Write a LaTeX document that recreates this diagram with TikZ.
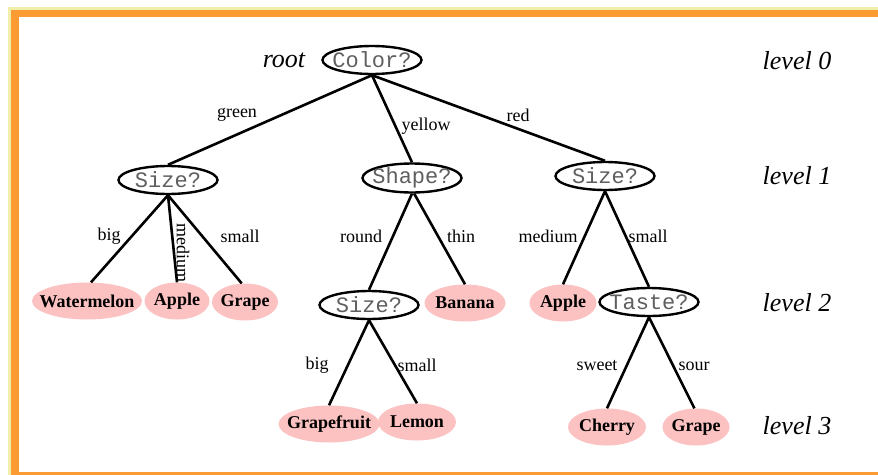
\documentclass[tikz,border=0pt]{standalone}
\usepackage{fontspec}
\setmainfont{Liberation Serif}
\newfontfamily\quizfont{Liberation Mono}
\usepackage{tikz}
\usetikzlibrary{shapes.geometric}

\definecolor{framecream}{RGB}{240,238,168}
\definecolor{frameorange}{RGB}{251,155,52}
\definecolor{fruitpink}{RGB}{252,194,194}
\definecolor{quizgray}{RGB}{95,95,95}

\tikzset{
  question/.style={ellipse, draw=black, line width=2.4pt, fill=white,
    minimum width=99pt, minimum height=28pt, inner xsep=-8pt, inner ysep=0pt,
    text=quizgray, font=\quizfont\fontsize{22}{22}\selectfont},
  fruit/.style={ellipse, fill=fruitpink, minimum height=37pt, inner xsep=-20pt, inner ysep=0pt,
    font=\bfseries\fontsize{18}{18}\selectfont},
  branch/.style={inner sep=0pt, font=\fontsize{18}{18}\selectfont},
  levellabel/.style={inner sep=0pt, font=\itshape\fontsize{26}{26}\selectfont},
  link/.style={line width=2.6pt}
}

\begin{document}
\begin{tikzpicture}[x=1pt, y=-1pt]
    \useasboundingbox (0, 0) rectangle (878, 474);
    \clip (0, 0) rectangle (878, 474);

    % frame
    \fill[framecream] (8, 7) rectangle (900, 500);
    \fill[frameorange] (11, 10) rectangle (900, 500);
    \fill[white] (19, 17) rectangle (900, 472);

    % level labels
    \node[levellabel] (rootlbl) at (284, 60) {root};
    \node[levellabel] (lvl0) at (797, 61) {level 0};
    \node[levellabel] (lvl1) at (797, 176) {level 1};
    \node[levellabel] (lvl2) at (797, 303) {level 2};
    \node[levellabel] (lvl3) at (797, 426) {level 3};

    % questions
    \node[question] (root) at (372, 60) {Color?};
    \node[question] (sizeL) at (168, 180) {Size?};
    \node[question] (shape) at (412, 178) {Shape?};
    \node[question] (sizeR) at (605, 176) {Size?};
    \node[question] (sizeM) at (369, 305) {Size?};
    \node[question] (taste) at (649, 302) {Taste?};

    % fruits
    \node[fruit, minimum width=110pt] (watermelon) at (87, 301) {Watermelon};
    \node[fruit, minimum width=65pt] (appleL) at (177, 301) {Apple};
    \node[fruit, minimum width=66pt] (grapeL) at (245, 302) {Grape};
    \node[fruit, minimum width=81pt] (banana) at (465, 303) {Banana};
    \node[fruit, minimum width=67pt] (appleR) at (563, 303) {Apple};
    \node[fruit, minimum width=101pt] (grapefruit) at (329, 424) {Grapefruit};
    \node[fruit, minimum width=78pt] (lemon) at (417, 422) {Lemon};
    \node[fruit, minimum width=78pt] (cherry) at (607, 427) {Cherry};
    \node[fruit, minimum width=67pt] (grapeR) at (696, 427) {Grape};

    % branches
    \draw[link] (root.south) -- (sizeL.north);
    \draw[link] (root.south) -- (shape.north);
    \draw[link] (root.south) -- (sizeR.north);
    \draw[link] (sizeL.south) -- (watermelon.78);
    \draw[link] (sizeL.south) -- (appleL.north);
    \draw[link] (sizeL.south) -- (grapeL.100);
    \draw[link] (shape.south) -- (sizeM.north);
    \draw[link] (shape.-82) -- (banana.north);
    \draw[link] (sizeR.south) -- (appleR.north);
    \draw[link] (sizeR.south) -- (taste.north);
    \draw[link] (sizeM.south) -- (grapefruit.north);
    \draw[link] (sizeM.south) -- (lemon.north);
    \draw[link] (taste.south) -- (cherry.north);
    \draw[link] (taste.south) -- (grapeR.95);

    % branch labels
    \node[branch] (green) at (237, 115) {green};
    \node[branch] (yellow) at (426, 126) {yellow};
    \node[branch] (red) at (518, 115) {red};
    \node[branch] (bigL) at (109, 236) {big};
    \node[branch, rotate=-90] (mediumL) at (183, 253) {medium};
    \node[branch] (smallL) at (240, 236) {small};
    \node[branch] (round) at (361, 236) {round};
    \node[branch] (thin) at (461, 236) {thin};
    \node[branch] (mediumR) at (548, 236) {medium};
    \node[branch] (smallR) at (648, 236) {small};
    \node[branch] (bigM) at (317, 365) {big};
    \node[branch] (smallM) at (417, 365) {small};
    \node[branch] (sweet) at (597, 366) {sweet};
    \node[branch] (sour) at (694, 366) {sour};
\end{tikzpicture}
\end{document}
